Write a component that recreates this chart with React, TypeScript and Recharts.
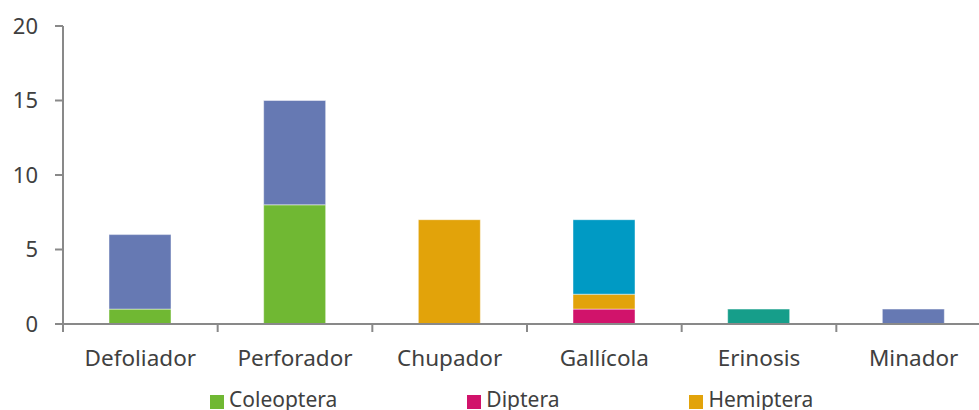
import React from 'react';
import { BarChart, Bar, XAxis, YAxis } from 'recharts';

// Feeding guilds on the category axis
const categories = ['Defoliador', 'Perforador', 'Chupador', 'Gallícola', 'Erinosis', 'Minador'];

// Number of species per order in each guild
const coleoptera = [1, 8, 0, 0, 0, 0];
const diptera = [0, 0, 0, 1, 0, 0];
const hemiptera = [0, 0, 7, 1, 0, 0];
const hymenoptera = [0, 0, 0, 5, 0, 0];
const lepidoptera = [5, 7, 0, 0, 0, 1];
const acari = [0, 0, 0, 0, 1, 0];

const yTicks = [0, 5, 10, 15, 20];

const series = [
  { key: 'Coleoptera', values: coleoptera, color: '#70b833' },
  { key: 'Diptera', values: diptera, color: '#d1136b' },
  { key: 'Hemiptera', values: hemiptera, color: '#e2a30a' },
  { key: 'Hymenoptera', values: hymenoptera, color: '#009ac4' },
  { key: 'Lepidoptera', values: lepidoptera, color: '#6679b3' },
  { key: 'Acari', values: acari, color: '#169e8a' },
];

const data = categories.map((name, i) => {
  const row: Record<string, string | number> = { name };
  series.forEach((s) => {
    row[s.key] = s.values[i];
  });
  return row;
});

// Layout
const CHART_W = 995;
const CHART_H = 380;
const MARGIN = { top: 26, right: 4, bottom: 0, left: 0 };
const Y_AXIS_W = 63;
const X_AXIS_H = 56;
const PLOT_W = CHART_W - MARGIN.left - MARGIN.right - Y_AXIS_W;
const BAND = PLOT_W / categories.length;
const AXIS_COLOR = '#898989';
const TEXT_COLOR = '#404040';
const FONT = "'Noto Sans', sans-serif";
const X_FONT_SIZE = 22.5;
const Y_FONT_SIZE = 22;
const LEGEND_FONT_SIZE = 21;

const LEGEND_LEFT = 210;
const LEGEND_TOP = 386;
const LEGEND_GAP = 130;
const LEGEND_ROW_H = 26;
const LEGEND_PER_ROW = 3;

const legendRows: typeof series[] = [];
for (let i = 0; i < series.length; i += LEGEND_PER_ROW) {
  legendRows.push(series.slice(i, i + LEGEND_PER_ROW));
}

// Category label plus a boundary tick on the left side of each band
const CategoryTick = (props: any) => {
  const { x, y, payload, index, visibleTicksCount } = props;
  const left = x - BAND / 2;
  const right = x + BAND / 2;
  return (
    <g>
      <line x1={left} y1={y - 8} x2={left} y2={y} stroke={AXIS_COLOR} strokeWidth={2} />
      {index === visibleTicksCount - 1 && (
        <line x1={right} y1={y - 8} x2={right} y2={y} stroke={AXIS_COLOR} strokeWidth={2} />
      )}
      <text
        x={x}
        y={y + 34}
        textAnchor="middle"
        fill={TEXT_COLOR}
        fontFamily={FONT}
        fontSize={X_FONT_SIZE}
      >
        {payload.value}
      </text>
    </g>
  );
};

export default function App() {
  return (
    <div
      style={{
        position: 'absolute',
        left: 0,
        top: 0,
        width: 979,
        height: 410,
        overflow: 'hidden',
        background: '#fff',
        fontFamily: FONT,
      }}
    >
      <BarChart width={CHART_W} height={CHART_H} data={data} margin={MARGIN}>
        <YAxis
          width={Y_AXIS_W}
          domain={[0, 20]}
          ticks={yTicks}
          interval={0}
          tickSize={8}
          tickMargin={17}
          axisLine={{ stroke: AXIS_COLOR, strokeWidth: 2 }}
          tickLine={{ stroke: AXIS_COLOR, strokeWidth: 2 }}
          tick={{ fill: TEXT_COLOR, fontFamily: FONT, fontSize: Y_FONT_SIZE }}
        />
        <XAxis
          dataKey="name"
          height={X_AXIS_H}
          interval={0}
          tickSize={8}
          tickMargin={0}
          tickLine={false}
          axisLine={{ stroke: AXIS_COLOR, strokeWidth: 2 }}
          tick={<CategoryTick />}
        />
        {series.map((s) => (
          <Bar
            key={s.key}
            dataKey={s.key}
            stackId="orders"
            fill={s.color}
            barSize={62}
            stroke="#ffffff"
            strokeOpacity={0.45}
            strokeWidth={1}
            isAnimationActive={false}
          />
        ))}
      </BarChart>
      {legendRows.map((row, r) => (
        <div
          key={r}
          style={{
            position: 'absolute',
            left: LEGEND_LEFT,
            top: LEGEND_TOP + r * LEGEND_ROW_H,
            display: 'flex',
            gap: LEGEND_GAP,
            whiteSpace: 'nowrap',
          }}
        >
          {row.map((s) => (
            <div
              key={s.key}
              style={{
                display: 'flex',
                alignItems: 'flex-start',
                fontSize: LEGEND_FONT_SIZE,
                color: TEXT_COLOR,
                lineHeight: `${LEGEND_ROW_H}px`,
              }}
            >
              <span
                style={{
                  display: 'inline-block',
                  width: 14,
                  height: 14,
                  marginTop: 9,
                  background: s.color,
                  marginRight: 5,
                }}
              />
              {s.key}
            </div>
          ))}
        </div>
      ))}
    </div>
  );
}
